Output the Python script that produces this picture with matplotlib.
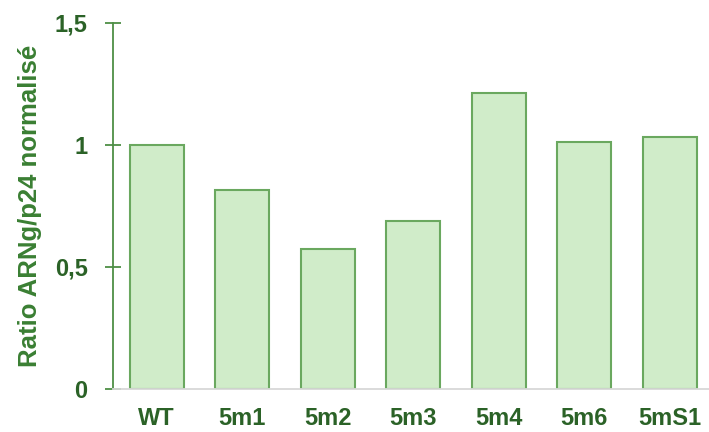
import numpy as np
import matplotlib.pyplot as plt

plt.rcParams['font.family'] = ['Liberation Sans', 'DejaVu Sans']

# Normalised ARNg/p24 ratio for each construct
constructs = ['WT', '5m1', '5m2', '5m3', '5m4', '5m6', '5mS1']
ratio = [1.0, 0.815, 0.572, 0.687, 1.214, 1.012, 1.033]
yticks = [0, 0.5, 1, 1.5]
ytick_labels = ['0', '0,5', '1', '1,5']

dark_green = '#2b6227'
axis_green = '#4e8f45'

fig = plt.figure(figsize=(7.09, 4.32), dpi=100)
ax = fig.add_axes([0.159, 0.0995, 0.841, 0.8475])

x = np.arange(len(constructs))
ax.bar(x, ratio, width=0.63, color='#d0ecc9', edgecolor='#6aa85f', linewidth=1.5, zorder=2)

ax.set_xlim(-0.515, 6.46)
ax.set_ylim(0, 1.5)

ax.set_yticks(yticks)
ax.set_yticklabels(ytick_labels)
ax.set_xticks(x)
ax.set_xticklabels(constructs)

for spine in ['top', 'right']:
    ax.spines[spine].set_visible(False)
ax.spines['left'].set_color(axis_green)
ax.spines['left'].set_linewidth(1.3)
ax.spines['bottom'].set_color('#d8d8d8')
ax.spines['bottom'].set_linewidth(1.3)

# ticks cross the y axis, labels sit well clear of it
ax.tick_params(axis='y', direction='inout', length=12, width=1.3, color=axis_green,
               labelsize=17, labelcolor=dark_green, pad=12)
ax.tick_params(axis='x', length=0, labelsize=17, labelcolor=dark_green, pad=13)
for lab in ax.get_xticklabels() + ax.get_yticklabels():
    lab.set_fontweight('bold')

ax.set_ylabel('Ratio ARNg/p24 normalisé', fontsize=18.5, fontweight='bold',
              color='#3a7f33', labelpad=9)

fig.savefig('out.png', dpi=100)
